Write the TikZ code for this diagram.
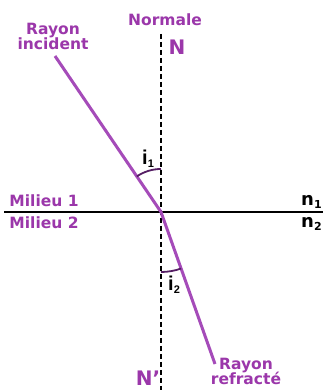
\documentclass[tikz,border=0pt]{standalone}
\usepackage{fontspec}
\setmainfont{DejaVu Sans}
\newfontfamily\labfont{Liberation Sans}
\definecolor{txtpurple}{RGB}{155,55,170}
\definecolor{raypurple}{RGB}{165,75,185}
\definecolor{arcpurple}{RGB}{85,30,100}
\begin{document}
\begin{tikzpicture}[x=1pt,y=1pt,
  lbl/.style={font=\fontsize{15.5}{16}\selectfont\bfseries, text=txtpurple, inner sep=0pt, align=center},
  bigl/.style={font=\fontsize{20}{20}\selectfont\bfseries, text=txtpurple, inner sep=0pt},
  blk/.style={font=\fontsize{18}{18}\selectfont\bfseries, text=black, inner sep=0pt},
  anglbl/.style={font=\labfont\bfseries\fontsize{20}{20}\selectfont, text=black, inner sep=0pt},
  ray/.style={draw=raypurple, line width=3pt},
  normalline/.style={draw=black, line width=2.6pt, dash pattern=on 5.5pt off 2.5pt},
  surface/.style={draw=black, line width=2.8pt},
  angarc/.style={draw=arcpurple, line width=1.8pt}]
\useasboundingbox (0,0) rectangle (323,390);
\fill[white] (0,0) rectangle (323,390);
% key points
\coordinate (O) at (161,178);
\coordinate (A) at (55,334);
\coordinate (B) at (215,26);
\coordinate (Ntop) at (161,356);
\coordinate (Nbot) at (161,0);
\coordinate (Sl) at (4,178);
\coordinate (Sr) at (323,178);
% lines
\draw[normalline] (Ntop) -- (Nbot);
\draw[surface] (Sl) -- (Sr);
\draw[ray] (A) -- (O) -- (B);
% angle arcs
\draw[angarc] ([shift={(90:43)}]O) arc[start angle=90, end angle=124.2, radius=43];
\draw[angarc] ([shift={(-90:60)}]O) arc[start angle=-90, end angle=-70.4, radius=60];
% labels
\node[lbl] (ri) at (53,354) {Rayon\\[-1pt]incident};
\node[lbl] (nrm) at (165,370) {Normale};
\node[bigl] (N) at (177,343) {N};
\node[bigl, anchor=south, text depth=0pt] (Np) at (148,4) {N'};
\node[lbl] (m1) at (44,189) {Milieu 1};
\node[lbl] (m2) at (44,167) {Milieu 2};
\node[lbl] (rr) at (246,19) {Rayon\\[-1pt]refracté};
\node[blk, anchor=west] (n1) at (301,188) {n\textsubscript{\fontsize{11}{11}\selectfont 1}};
\node[blk, anchor=west] (n2) at (301,166) {n\textsubscript{\fontsize{11}{11}\selectfont 2}};
\node[anglbl, anchor=west] (i1) at (142,231) {i\textsubscript{\fontsize{11}{11}\selectfont 1}};
\node[anglbl, anchor=west] (i2) at (168,105) {i\textsubscript{\fontsize{11}{11}\selectfont 2}};
\end{tikzpicture}
\end{document}
